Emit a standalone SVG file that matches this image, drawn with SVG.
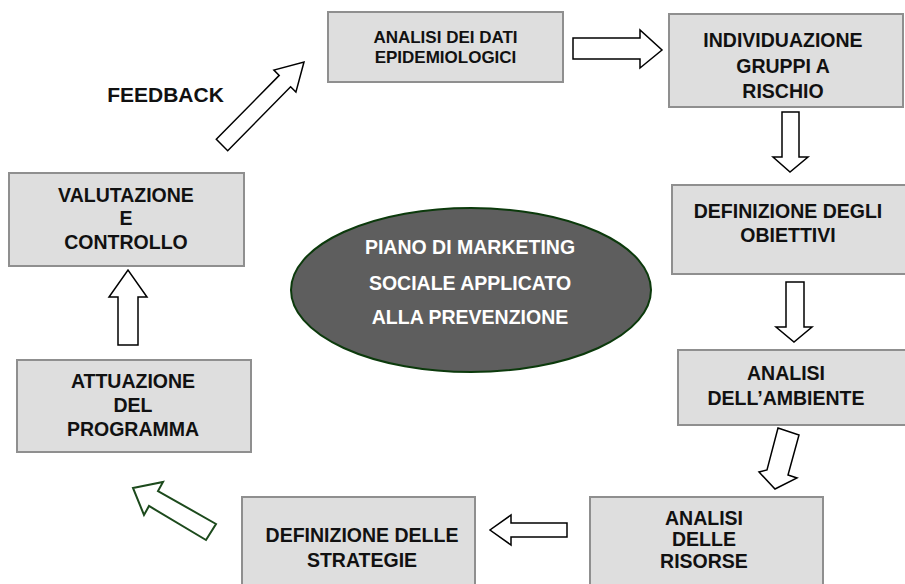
<svg xmlns="http://www.w3.org/2000/svg" width="905" height="584" viewBox="0 0 905 584">
<style>
.box{fill:#dedede;stroke:#8f8f8f;stroke-width:2}
.t{font-family:"Liberation Sans",Arial,sans-serif;font-weight:bold;font-size:19.5px;fill:#111;text-anchor:middle}
.ts{font-size:17px}
.arr{fill:#fff;stroke:#000;stroke-width:1.5;stroke-linejoin:miter}
.garr{fill:#fff;stroke:#1c4a1c;stroke-width:2}
.el{fill:#5e5e5e;stroke:#0c3a0c;stroke-width:2}
.w{fill:#fff}
</style>
<rect width="905" height="584" fill="#fff"/>
<g id="connectors">
<polygon class="arr" points="573,38 640,38 640,30 662,50 640,68 640,59 573,59"/>
<polygon class="arr" points="782,112 799,112 799,157 808,157 790,172 773,157 782,157"/>
<polygon class="arr" points="786,282 804,282 804,327 812,327 794,342 776,327 786,327"/>
<polygon class="arr" points="778,428 799,435 788,475 797,478 775,489 759,472 767,470"/>
<polygon class="arr" points="567,523 511,523 511,515 490,530 511,545 511,537 567,537"/>
<polygon class="garr" points="133,488 163,482 158,491 216,524 206,540 149,506 144,515"/>
<polygon class="arr" points="118,345 138,345 138,297 147,297 128,270 109,297 118,297"/>
<polygon class="arr" points="304,62 295.9,92.1 290.6,86.8 227.7,150.7 216.3,139.3 279.2,75.4 273.9,70.1"/>
</g>
<g id="feedback">
<text class="t" x="165.5" y="102" style="font-size:21px">FEEDBACK</text>
</g>
<g id="n-analisi-dati">
<rect class="box" x="328" y="12" width="235" height="70"/>
<text class="t ts" x="445.5" y="43">ANALISI DEI DATI</text>
<text class="t ts" x="445.5" y="63">EPIDEMIOLOGICI</text>
</g>
<g id="n-individuazione">
<rect class="box" x="669" y="14" width="234" height="93"/>
<text class="t" x="783" y="47">INDIVIDUAZIONE</text>
<text class="t" x="783" y="73">GRUPPI A</text>
<text class="t" x="783" y="98">RISCHIO</text>
</g>
<g id="n-obiettivi">
<rect class="box" x="672" y="185" width="240" height="89"/>
<text class="t" x="788" y="218">DEFINIZIONE DEGLI</text>
<text class="t" x="788" y="242">OBIETTIVI</text>
</g>
<g id="n-ambiente">
<rect class="box" x="678" y="350" width="234" height="75"/>
<text class="t" x="786" y="380">ANALISI</text>
<text class="t" x="786" y="405">DELL’AMBIENTE</text>
</g>
<g id="n-risorse">
<rect class="box" x="590" y="497" width="233" height="92"/>
<text class="t" x="704" y="525">ANALISI</text>
<text class="t" x="704" y="546">DELLE</text>
<text class="t" x="704" y="568">RISORSE</text>
</g>
<g id="n-strategie">
<rect class="box" x="242" y="497" width="233" height="92"/>
<text class="t" x="362" y="542">DEFINIZIONE DELLE</text>
<text class="t" x="362" y="567">STRATEGIE</text>
</g>
<g id="n-attuazione">
<rect class="box" x="17" y="360" width="234" height="92"/>
<text class="t" x="133" y="388">ATTUAZIONE</text>
<text class="t" x="133" y="412">DEL</text>
<text class="t" x="133" y="436">PROGRAMMA</text>
</g>
<g id="n-valutazione">
<rect class="box" x="9" y="173" width="235" height="93"/>
<text class="t" x="126" y="202">VALUTAZIONE</text>
<text class="t" x="126" y="225">E</text>
<text class="t" x="126" y="249">CONTROLLO</text>
</g>
<g id="n-piano">
<ellipse class="el" cx="471" cy="290" rx="180" ry="82"/>
<text class="t w" x="470" y="254">PIANO DI MARKETING</text>
<text class="t w" x="470" y="290">SOCIALE APPLICATO</text>
<text class="t w" x="470" y="324">ALLA PREVENZIONE</text>
</g>
</svg>
